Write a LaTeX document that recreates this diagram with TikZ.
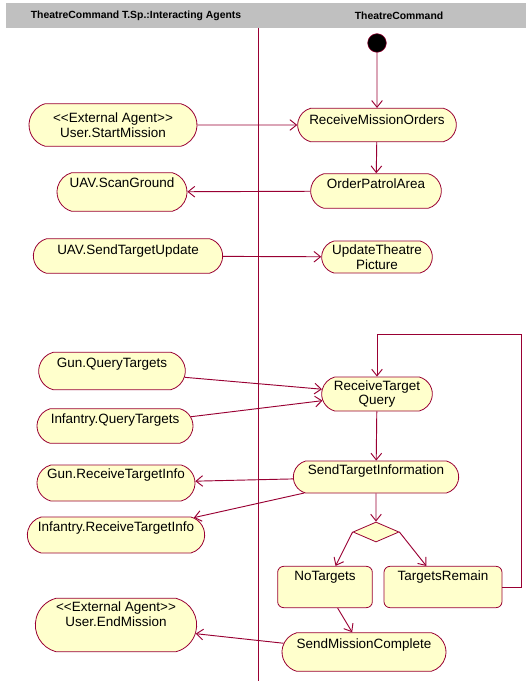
\documentclass[tikz,border=0pt]{standalone}
\usepackage{fontspec}
\setmainfont{Liberation Sans}
\usepackage{tikz}
\usetikzlibrary{shapes.misc,shapes.geometric,arrows.meta}
\definecolor{wine}{RGB}{153,0,51}
\definecolor{cream}{RGB}{255,255,204}
\definecolor{lane}{RGB}{192,192,192}

\begin{document}
\begin{tikzpicture}[x=0.75pt, y=-0.75pt, >={Straight Barb[length=5pt,width=8pt]},
    every node/.style = {font=\fontsize{10.1}{11}\selectfont, inner sep=0pt},
    act/.style = {rounded rectangle, rounded rectangle arc length=150, draw=wine, fill=cream, line width=0.6pt, align=center},
    box/.style = {rectangle, rounded corners=4.5pt, draw=wine, fill=cream, line width=0.6pt},
    lift/.style = {text height=7pt, text depth=#1},
    flow/.style = {->, draw=wine, line width=0.7pt},
    head/.style = {font=\bfseries\fontsize{7.8}{9}\selectfont}
    ]
    \useasboundingbox (0,0) rectangle (526,681);

    % swimlanes
    \fill[lane] (6,3) rectangle (526,28);
    \node[head] (hleft) at (136,16) {TheatreCommand T.Sp.:Interacting Agents};
    \node[head] (hright) at (399,16) {TheatreCommand};
    \draw[wine, line width=0.7pt] (258,28) -- (258,681);

    \node[circle, fill=black, draw=wine, minimum size=14pt] (init) at (377,43) {};

    \node[act, lift=8pt, minimum width=119pt, minimum height=25pt] (rmo) at (377,125) {ReceiveMissionOrders};
    \node[act, minimum width=126pt, minimum height=32pt] (usm) at (113,125) {<{}<External Agent>{}>\\User.StartMission};
    \node[act, lift=11pt, minimum width=98pt, minimum height=26pt] (opa) at (376,191) {OrderPatrolArea};
    \node[act, lift=14pt, minimum width=97.5pt, minimum height=29pt] (scan) at (122,192) {UAV.ScanGround};
    \node[act, lift=9.5pt, minimum width=142pt, minimum height=26pt] (stu) at (128,256) {UAV.SendTargetUpdate};
    \node[act, minimum width=83pt, minimum height=24pt] (utp) at (377,257) {UpdateTheatre\\Picture};

    \node[act, lift=12.5pt, minimum width=110pt, minimum height=28pt] (gqt) at (112,371) {Gun.QueryTargets};
    \node[act, lift=11pt, minimum width=117pt, minimum height=26pt] (iqt) at (115,426) {Infantry.QueryTargets};
    \node[act, minimum width=83pt, minimum height=25.5pt] (rtq) at (377,394) {ReceiveTarget\\Query};
    \node[act, lift=11pt, minimum width=124pt, minimum height=24pt] (sti) at (376,477) {SendTargetInformation};
    \node[act, lift=14pt, minimum width=118.5pt, minimum height=27pt] (grti) at (116,483) {Gun.ReceiveTargetInfo};
    \node[act, lift=12.5pt, minimum width=133pt, minimum height=27pt] (irti) at (116,535) {Infantry.ReceiveTargetInfo};

    \node[diamond, draw=wine, fill=cream, line width=0.6pt, minimum width=34.5pt, minimum height=15pt] (dec) at (376,532) {};
    \node[box, lift=17pt, minimum width=71pt, minimum height=31pt] (none) at (325,587) {NoTargets};
    \node[box, lift=17pt, minimum width=88.5pt, minimum height=31pt] (remain) at (443,587) {TargetsRemain};
    \node[act, lift=12.5pt, minimum width=123pt, minimum height=29pt] (smc) at (364,652) {SendMissionComplete};
    \node[act, text depth=16pt, minimum width=121pt, minimum height=40pt] (uem) at (116,625) {<{}<External Agent>{}>\\User.EndMission};

    \draw[flow] (init) -- (rmo);
    \draw[flow] (usm) -- (rmo);
    \draw[flow] (rmo) -- (opa);
    \draw[flow] (opa) -- (scan);
    \draw[flow] (stu) -- (utp);
    \draw[flow] (gqt) -- (rtq);
    \draw[flow] (iqt) -- (rtq);
    \draw[flow] (rtq) -- (sti);
    \draw[flow] (sti) -- (grti);
    \draw[flow] (sti) -- (irti);
    \draw[flow] (sti) -- (dec);
    \draw[flow] (dec.west) -- (none);
    \draw[flow] (dec.east) -- (remain);
    \draw[flow] (none) -- (smc);
    \draw[flow] (smc) -- (uem);
    \coordinate (loop) at (521,334);
    \draw[flow] (remain.east) -| (loop) -| (rtq.north);
\end{tikzpicture}
\end{document}
